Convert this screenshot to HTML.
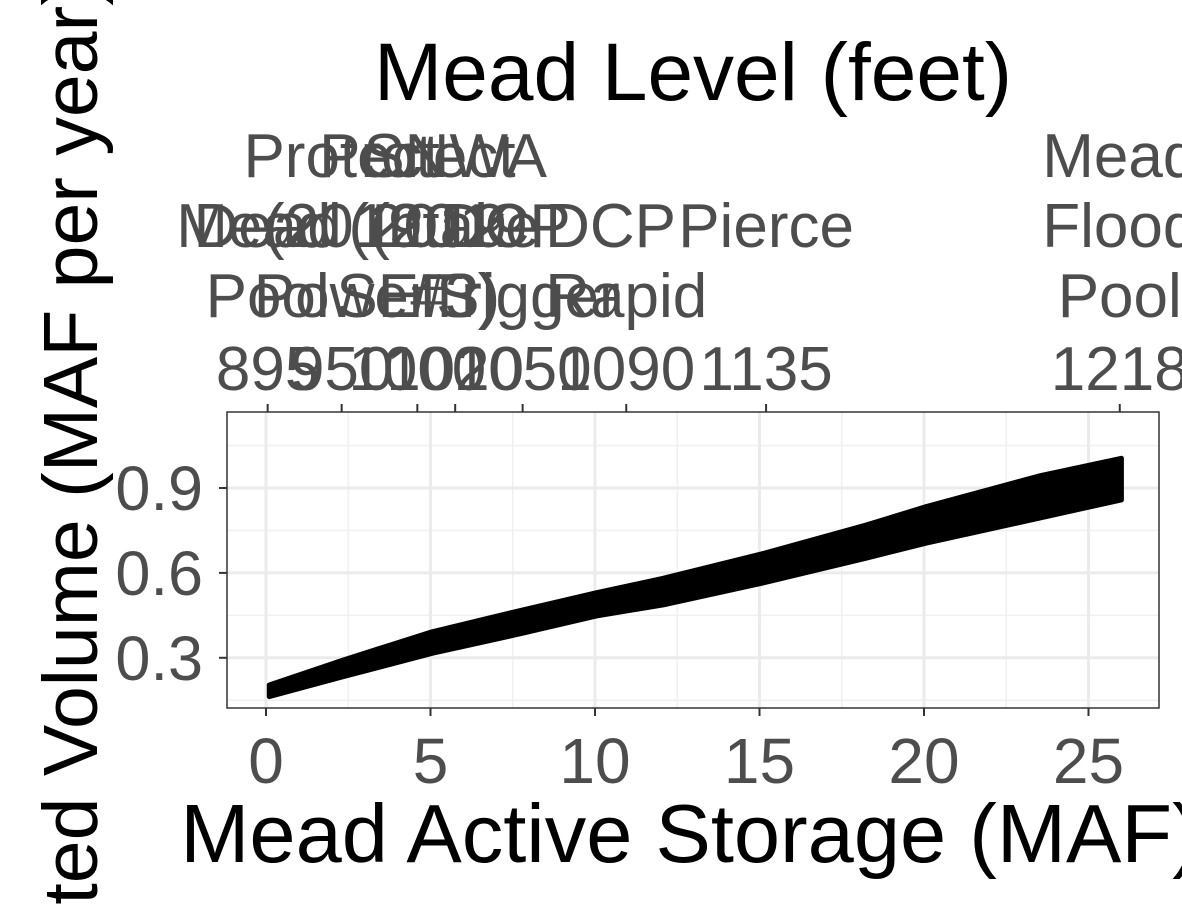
<!DOCTYPE html>
<html><head><meta charset="utf-8"><style>
html,body{margin:0;padding:0;background:#fff;overflow:hidden;}
svg{display:block;font-family:"Liberation Sans",Arial,sans-serif;}
</style></head><body>
<svg id="chart" width="1182" height="905" viewBox="0 0 1182 905"></svg>
<script>
const xTicks=[0,5,10,15,20,25];
const yTicks=[0.3,0.6,0.9];
const yMinor=[0.15,0.45,0.75,1.05];
const xMinor=[2.5,7.5,12.5,17.5,22.5];
const topLevels=[895,950,1000,1020,1050,1090,1135,1218];
const topStorage=[0.05,2.3,4.6,5.75,7.8,10.95,15.2,25.95];
const topLabels=[["","Dead","Pool"],["Protect","Mead (2019","Power"],["Protect","(2019 DCP","SEIS)"],["SNWA","Intake","#3)"],["","(2019 DCP","Trigger"],["","","Rapid"],["","Pierce",""],["Mead","Flood","Pool"]];
const bandX=[0.1,2.34,5.05,7.58,10.05,12.07,15.06,18.24,20.06,23.48,26.0];
const bandLow=[0.163,0.233,0.316,0.381,0.448,0.487,0.563,0.652,0.705,0.793,0.858];
const bandHigh=[0.204,0.292,0.392,0.463,0.530,0.581,0.667,0.769,0.834,0.942,1.005];

const L=227,R=1159,T=412,B=708;
const X=v=>266+v*32.9;
const Y=v=>488-(v-0.9)*283;
const svg=document.getElementById('chart');
const NS='http://www.w3.org/2000/svg';
function mk(t,a,p){const e=document.createElementNS(NS,t);for(const k in a)e.setAttribute(k,a[k]);(p||svg).appendChild(e);return e;}

const panel=mk('rect',{x:L,y:T,width:R-L,height:B-T,fill:'#fff'});


xMinor.forEach(v=>{const g=mk('line',{x1:X(v),x2:X(v),y1:T,y2:B,stroke:'#f0f0f0','stroke-width':1.5});

});
yMinor.forEach(v=>{const g=mk('line',{x1:L,x2:R,y1:Y(v),y2:Y(v),stroke:'#f0f0f0','stroke-width':1.5});

});
xTicks.forEach(v=>{const g=mk('line',{x1:X(v),x2:X(v),y1:T,y2:B,stroke:'#ebebeb','stroke-width':3});

});
yTicks.forEach(v=>{const g=mk('line',{x1:L,x2:R,y1:Y(v),y2:Y(v),stroke:'#ebebeb','stroke-width':3});

});

let pts=bandX.map((x,i)=>X(x)+','+Y(bandHigh[i]));
for(let i=bandX.length-1;i>=0;i--)pts.push(X(bandX[i])+','+Y(bandLow[i]));
const band=mk('polygon',{points:pts.join(' '),fill:'#000',stroke:'#000','stroke-width':5,'stroke-linejoin':'round'});



const border=mk('rect',{x:L,y:T,width:R-L,height:B-T,fill:'none',stroke:'#333','stroke-width':1.5});



xTicks.forEach(v=>{
 const t=mk('line',{x1:X(v),x2:X(v),y1:B,y2:B+8,stroke:'#333','stroke-width':2});
 
 
 const l=mk('text',{x:X(v),y:783,'text-anchor':'middle','font-size':64,fill:'#4d4d4d'});l.textContent=v;
 
 
});
yTicks.forEach(v=>{
 const t=mk('line',{x1:L-8,x2:L,y1:Y(v),y2:Y(v),stroke:'#333','stroke-width':2});
 
 
 const l=mk('text',{x:L-24,y:Y(v)+22,'text-anchor':'end','font-size':63,fill:'#4d4d4d'});l.textContent=v.toFixed(1);
 
 
});
topStorage.forEach((s,i)=>{
 const t=mk('line',{x1:X(s),x2:X(s),y1:T-8,y2:T,stroke:'#333','stroke-width':2});
 
 
 const n=mk('text',{x:X(s),y:390,'text-anchor':'middle','font-size':62,fill:'#4d4d4d'});n.textContent=topLevels[i];
 
 
 topLabels[i].forEach((ln,j)=>{if(!ln)return;
  const e=mk('text',{x:X(s),y:177+j*70,'text-anchor':'middle','font-size':62,fill:'#4d4d4d'});e.textContent=ln;
  
  });
});
const tt=mk('text',{x:693,y:100,'text-anchor':'middle','font-size':82,fill:'#000'});tt.textContent='Mead Level (feet)';


const xt=mk('text',{x:690,y:862,'text-anchor':'middle','font-size':83,fill:'#000'});xt.textContent='Mead Active Storage (MAF)';


const yt=mk('text',{x:0,y:0,'text-anchor':'middle','font-size':77,fill:'#000',transform:'translate(97,543) rotate(-90)'});yt.textContent='Depleted Volume (MAF per year)';


</script>
</body></html>
